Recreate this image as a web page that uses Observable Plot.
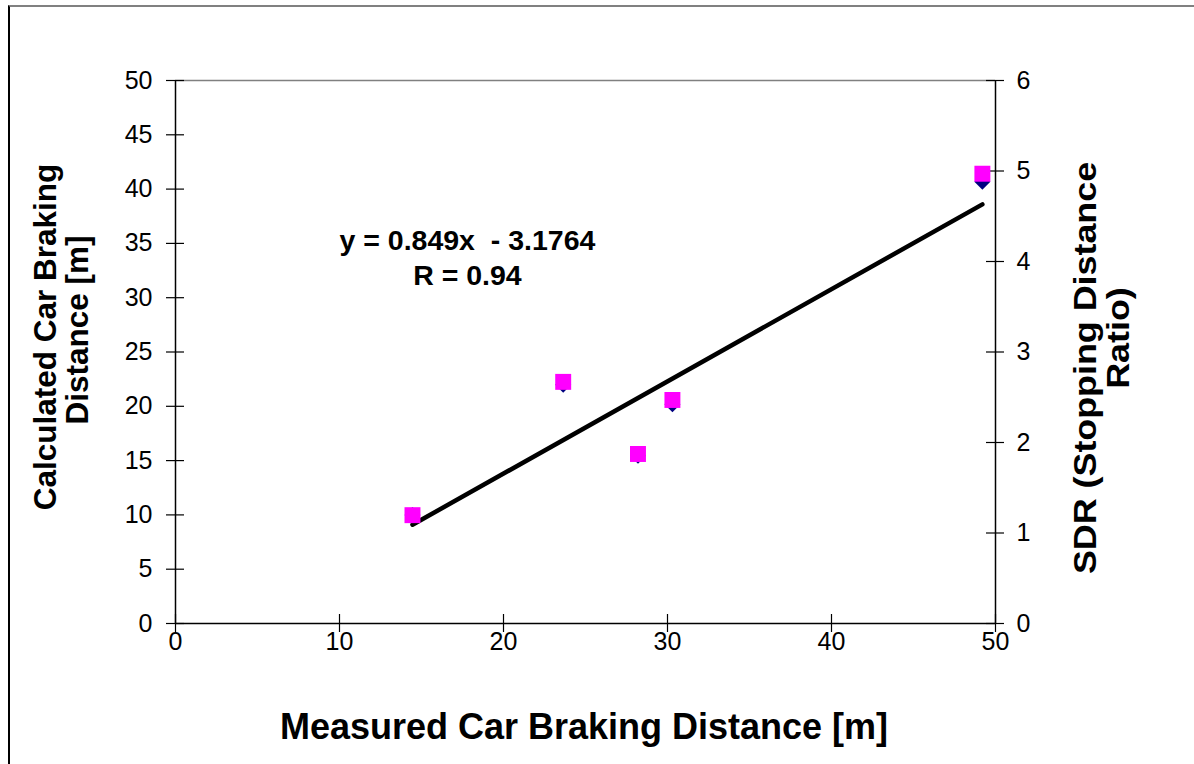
<!DOCTYPE html>
<html><head><meta charset="utf-8">
<script src="https://cdn.jsdelivr.net/npm/d3@7"></script>
<script src="https://cdn.jsdelivr.net/npm/@observablehq/plot@0.6"></script>
<style>
body{margin:0;background:#fff;font-family:"Liberation Sans",Arial,sans-serif;}
#wrap{position:relative;width:1194px;height:764px;overflow:hidden;background:#fff;}
#frame{position:absolute;left:8px;top:5px;width:1400px;height:900px;border-top:2px solid #808080;border-left:2px solid #000;}
#chart{position:absolute;left:0;top:0;}
.lbl{position:absolute;font-weight:bold;font-size:36px;white-space:nowrap;color:#000;line-height:1;transform:translate(-50%,-50%);}
.rot{transform:translate(-50%,-50%) rotate(-90deg);}
.small{font-size:31.5px;}
.rside{font-size:32px;transform:translate(-50%,-50%) rotate(-90deg) scale(1.12,1);}
</style></head>
<body><div id="wrap"><div id="frame"></div><div id="chart"></div>
<div class="lbl" id="xl" style="left:584px;top:727px">Measured Car Braking Distance [m]</div>
<div class="lbl rot small" style="left:46px;top:337px">Calculated Car Braking</div>
<div class="lbl rot small" style="left:78px;top:330px">Distance [m]</div>
<div class="lbl rside" style="left:1085px;top:368px">SDR (Stopping Distance</div>
<div class="lbl rside" style="left:1118px;top:338px">Ratio)</div>
</div>
<script>
// Data
const measured   = [14.45, 23.64, 28.2, 30.3, 49.2];   // x: Measured Car Braking Distance [m]
const calculated = [10.0, 21.98, 15.44, 20.19, 40.67]; // left y: Calculated Car Braking Distance [m]
const sdr        = [1.197, 2.67, 1.873, 2.47, 4.97];   // right y: SDR (Stopping Distance Ratio)
const xTicks      = [0, 10, 20, 30, 40, 50];
const yTicksLeft  = [0, 5, 10, 15, 20, 25, 30, 35, 40, 45, 50];
const yTicksRight = [0, 1, 2, 3, 4, 5, 6];
const slope = 0.849, intercept = -3.1764;
const equationLabel = "y = 0.849x\u00a0 - 3.1764";
const rLabel = "R = 0.94";

const leftMax = d3.max(yTicksLeft), rightMax = d3.max(yTicksRight);
const k = leftMax / rightMax; // maps right-axis units onto the left scale
const rows = measured.map((m, i) => ({m, c: calculated[i], s: sdr[i]}));
const fitRows = d3.extent(measured).map(m => ({m, f: slope * m + intercept}));
const tickFont = 25;

const chart = Plot.plot({
  width: 1194, height: 764,
  marginLeft: 175, marginRight: 199, marginTop: 80, marginBottom: 141,
  style: {fontFamily: "'Liberation Sans', Arial, sans-serif", fontSize: "25px", color: "#000", background: "transparent", overflow: "visible"},
  x: {domain: [d3.min(xTicks), d3.max(xTicks)]},
  y: {domain: [0, leftMax]},
  marks: [
    Plot.ruleY([leftMax], {stroke: "#808080", strokeWidth: 1.5}),
    Plot.ruleY([0], {stroke: "#000", strokeWidth: 1.5}),
    Plot.ruleX([d3.min(xTicks)], {stroke: "#000", strokeWidth: 1.5}),
    Plot.ruleX([d3.max(xTicks)], {stroke: "#000", strokeWidth: 1.5}),
    // crossing tick marks
    Plot.ruleX(xTicks, {x: d => d, y1: 0, y2: 0, insetTop: -9, insetBottom: -9, stroke: "#000", strokeWidth: 1.2}),
    Plot.ruleY(yTicksLeft, {y: d => d, x1: d3.min(xTicks), x2: d3.min(xTicks), insetLeft: -9, insetRight: -9, stroke: "#000", strokeWidth: 1.2}),
    Plot.ruleY(yTicksRight, {y: d => d * k, x1: d3.max(xTicks), x2: d3.max(xTicks), insetLeft: -9, insetRight: -9, stroke: "#000", strokeWidth: 1.2}),
    Plot.axisX({ticks: xTicks, tickSize: 0, tickPadding: 9, label: null, fontSize: tickFont}),
    Plot.axisY({ticks: yTicksLeft, tickSize: 0, tickPadding: 23, label: null, fontSize: tickFont}),
    Plot.axisY({anchor: "right", ticks: yTicksRight.map(d => d * k), tickFormat: d => String(Math.round(d / k)), tickSize: 0, tickPadding: 21, label: null, fontSize: tickFont}),
    // regression line
    Plot.line(fitRows, {x: "m", y: "f", stroke: "#000", strokeWidth: 4.5}),
    // points
    Plot.dot(rows, {x: "m", y: "c", symbol: "diamond2", r: 7.2, fill: "#000080", stroke: "none"}),
    Plot.dot(rows, {x: "m", y: d => d.s * k, symbol: "square", r: 9, fill: "#FF00FF", stroke: "none"}),
    // equation annotation
    Plot.text([equationLabel + "\n" + rLabel], {x: 17.8, y: 33.85, text: d => d, fontWeight: "bold", fontSize: 28.5, lineHeight: 1.23, fill: "#000"})
  ]
});
document.getElementById("chart").appendChild(chart);
</script>
</body></html>
